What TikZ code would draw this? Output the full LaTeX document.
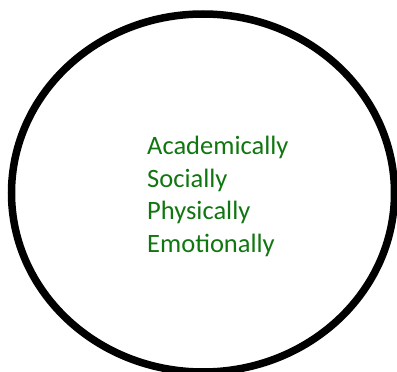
\documentclass[tikz,border=0pt]{standalone}
\usepackage{fontspec}
\setmainfont{Carlito}
\definecolor{txtgreen}{RGB}{16,118,16}
\begin{document}
\begin{tikzpicture}[x=1pt,y=-1pt,
  lbl/.style={anchor=base west,inner sep=0pt,text=txtgreen,font=\fontsize{26.5}{33}\selectfont}]
\useasboundingbox (0,0) rectangle (397,372);
\clip (0,0) rectangle (397,372);
\draw[line width=7.5pt] (203,193) ellipse [x radius=191.5, y radius=179];
\node[lbl] (a) at (147,154) {Academically};
\node[lbl] (s) at (147,187) {Socially};
\node[lbl] (p) at (147,219.5) {Physically};
\node[lbl] (e) at (147,252) {Emotionally};
\end{tikzpicture}
\end{document}
